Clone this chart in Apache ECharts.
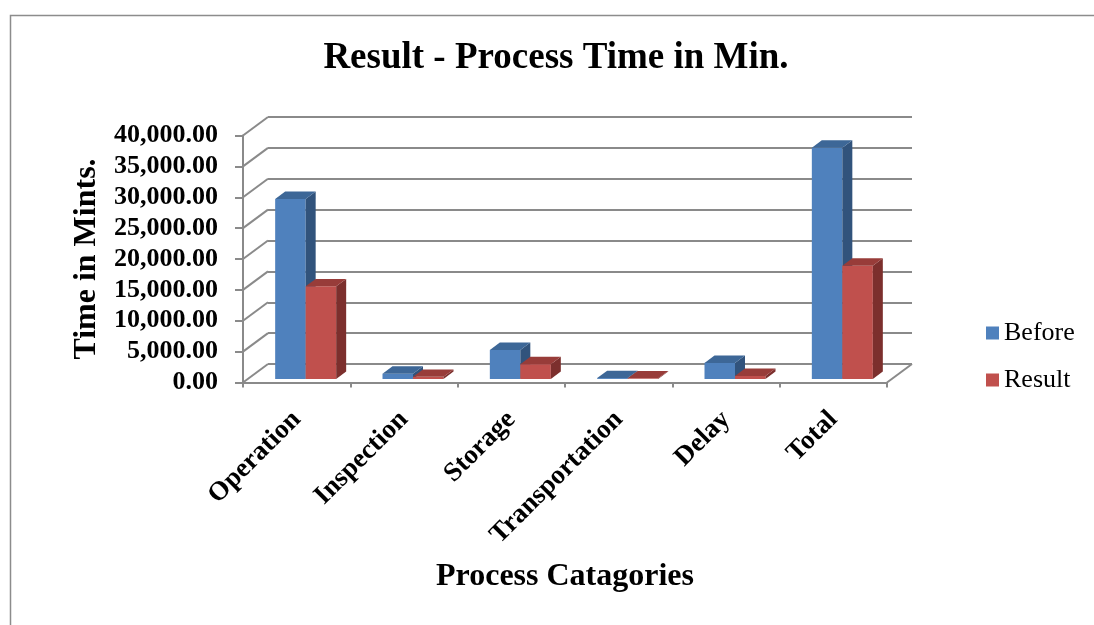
<!DOCTYPE html>
<html>
<head>
<meta charset="utf-8">
<title>Result - Process Time in Min.</title>
<script src="https://cdn.jsdelivr.net/npm/echarts@6/dist/echarts.min.js"></script>
<style>
  html, body { margin: 0; padding: 0; background: #fff; }
  #chart { width: 1094px; height: 625px; }
</style>
</head>
<body>
<div id="chart"></div>
<script>
// Process time per category, in minutes
const categories = ['Operation', 'Inspection', 'Storage', 'Transportation', 'Delay', 'Total'];
const beforeValues = [29150, 850, 4700, 150, 2600, 37450];
const resultValues = [15000, 350, 2400, 100, 500, 18350];
const seriesNames = ['Before', 'Result'];
const valueTicks = [0, 5000, 10000, 15000, 20000, 25000, 30000, 35000, 40000];

const SERIF = '"Liberation Serif", "Times New Roman", serif';
const GRID = { left: 243, top: 135.5, width: 644, height: 247 };
// oblique offset of the back wall relative to the front plane
const DEPTH = { dx: 25, dy: -18.5 };
// bars sit slightly behind the front edge and take part of the depth
const BAR = { front: 0.19, depth: 0.4, width: 30.5, lead: 21.5 };
const LINE = '#8a8a8a';
const palette = [
  { front: '#4f81bd', top: '#3d6797', side: '#31537c' },
  { front: '#c0504d', top: '#983c39', side: '#7c2f2d' }
];

function fmt(v) {
  return Math.round(v).toString().replace(/\B(?=(\d{3})+(?!\d))/g, ',') + '.00';
}

function barRenderer(si) {
  const col = palette[si];
  return function (params, api) {
    const idx = api.value(0);
    const base = api.coord([idx, 0]);
    const top = api.coord([idx, api.value(1)]);
    const oy = BAR.front * DEPTH.dy;
    const bx = BAR.depth * DEPTH.dx, by = BAR.depth * DEPTH.dy;
    const x0 = base[0] - BAR.lead + si * BAR.width;
    const x1 = x0 + BAR.width;
    const yb = base[1] + oy;
    const yt = top[1] + oy;
    return {
      type: 'group',
      children: [
        { type: 'rect', shape: { x: x0, y: yt, width: BAR.width, height: yb - yt },
          style: { fill: col.front } },
        { type: 'polygon', shape: { points: [[x1, yb], [x1, yt], [x1 + bx, yt + by], [x1 + bx, yb + by]] },
          style: { fill: col.side } },
        { type: 'polygon', shape: { points: [[x0, yt], [x1, yt], [x1 + bx, yt + by], [x0 + bx, yt + by]] },
          style: { fill: col.top } }
      ]
    };
  };
}

function wallRenderer(params, api) {
  const cs = params.coordSys;
  const p = api.coord([0, api.value(1)]);
  const lineStyle = { stroke: LINE, lineWidth: 2 };
  const children = [
    { type: 'line', shape: { x1: cs.x, y1: p[1], x2: cs.x + DEPTH.dx, y2: p[1] + DEPTH.dy }, style: lineStyle }
  ];
  if (api.value(1) === 0) {
    const xr = cs.x + cs.width;
    children.push({ type: 'line', shape: { x1: xr, y1: p[1], x2: xr + DEPTH.dx, y2: p[1] + DEPTH.dy }, style: lineStyle });
  }
  return { type: 'group', children: children };
}

const chart = echarts.init(document.getElementById('chart'), null, { renderer: 'canvas' });

chart.setOption({
  animation: false,
  backgroundColor: '#ffffff',
  graphic: [{
    type: 'rect', left: 8, top: 13, silent: true,
    shape: { width: 1200, height: 700 },
    style: { fill: 'none', stroke: '#8c8c8c', lineWidth: 1.5 }
  }],
  title: {
    text: 'Result - Process Time in Min.',
    left: 556, top: 40, textAlign: 'center', padding: 0,
    textStyle: { fontFamily: SERIF, fontSize: 37, fontWeight: 'bold', color: '#000' }
  },
  legend: {
    data: seriesNames,
    orient: 'vertical', left: 986, top: 320, padding: 0,
    itemWidth: 13, itemHeight: 13, itemGap: 21, icon: 'rect',
    textStyle: { fontFamily: SERIF, fontSize: 26, color: '#000', lineHeight: 25 }
  },
  grid: [
    { left: GRID.left, top: GRID.top, width: GRID.width, height: GRID.height },
    { left: GRID.left + DEPTH.dx, top: GRID.top + DEPTH.dy, width: GRID.width, height: GRID.height }
  ],
  xAxis: [
    {
      type: 'category', gridIndex: 0, data: categories, boundaryGap: true,
      axisLine: { lineStyle: { color: LINE, width: 2 } },
      axisTick: { show: true, length: 5, lineStyle: { color: LINE, width: 2 } },
      axisLabel: { interval: 0, rotate: 45, margin: 33, fontFamily: SERIF, fontSize: 27, fontWeight: 'bold', color: '#000' },
      splitLine: { show: false },
      name: 'Process Catagories', nameLocation: 'middle', nameGap: 178,
      nameTextStyle: { fontFamily: SERIF, fontSize: 32, fontWeight: 'bold', color: '#000' }
    },
    {
      type: 'category', gridIndex: 1, data: categories, boundaryGap: true,
      axisLine: { show: false }, axisTick: { show: false }, axisLabel: { show: false }, splitLine: { show: false }
    }
  ],
  yAxis: [
    {
      type: 'value', gridIndex: 0, min: 0, max: 40000, interval: 5000,
      axisLine: { show: true, lineStyle: { color: LINE, width: 2 } },
      axisTick: { show: true, length: 8, lineStyle: { color: LINE, width: 2 } },
      axisLabel: { margin: 25, formatter: fmt, fontFamily: SERIF, fontSize: 26, fontWeight: 'bold', color: '#000' },
      splitLine: { show: false },
      name: 'Time in Mints.', nameLocation: 'middle', nameGap: 139,
      nameTextStyle: { fontFamily: SERIF, fontSize: 32, fontWeight: 'bold', color: '#000' }
    },
    {
      type: 'value', gridIndex: 1, min: 0, max: 40000, interval: 5000,
      axisLine: { show: false }, axisTick: { show: false }, axisLabel: { show: false },
      splitLine: { show: true, lineStyle: { color: LINE, width: 2 } }
    }
  ],
  series: [
    {
      type: 'custom', name: 'wall', silent: true, xAxisIndex: 0, yAxisIndex: 0,
      renderItem: wallRenderer,
      data: valueTicks.map(v => [0, v])
    },
    {
      type: 'custom', name: seriesNames[0], xAxisIndex: 0, yAxisIndex: 0,
      itemStyle: { color: palette[0].front },
      renderItem: barRenderer(0),
      data: beforeValues.map((v, i) => [i, v])
    },
    {
      type: 'custom', name: seriesNames[1], xAxisIndex: 0, yAxisIndex: 0,
      itemStyle: { color: palette[1].front },
      renderItem: barRenderer(1),
      data: resultValues.map((v, i) => [i, v])
    }
  ]
});
</script>
</body>
</html>
